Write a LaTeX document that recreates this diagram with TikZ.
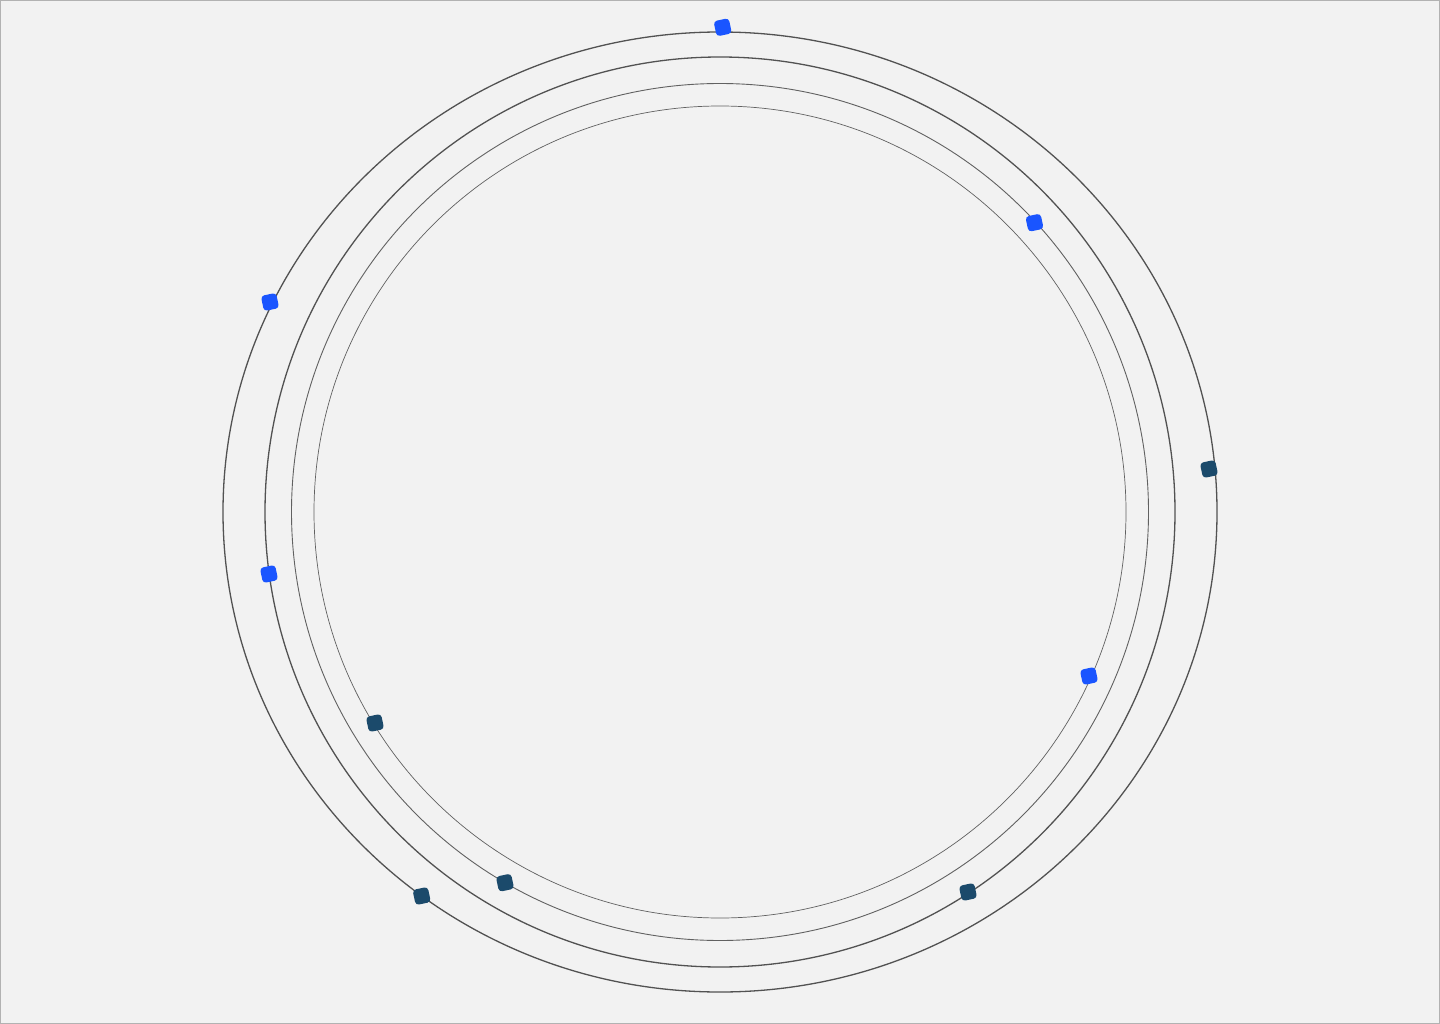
\documentclass[tikz,border=0pt]{standalone}
\begin{document}
\begin{tikzpicture}[x=1pt,y=-1pt,
  ring/.style={draw=black!68,line width=1.3pt},
  ringthin/.style={draw=black!62,line width=0.9pt},
  marker/.style={rectangle,minimum size=15.5pt,inner sep=0pt,rounded corners=3.5pt,rotate=12},
  bluemark/.style={marker,fill=mblue},
  darkmark/.style={marker,fill=mdark}]
\definecolor{bg}{HTML}{F2F2F2}
\definecolor{mblue}{HTML}{1A55FF}
\definecolor{mdark}{HTML}{1B4A6B}
\useasboundingbox (0,0) rectangle (1440,1024);
\fill[bg] (0,0) rectangle (1440,1024);
\draw[black!30,line width=1pt] (0.5,0.5) rectangle (1439.5,1023.5);
\coordinate (c) at (720,512);
\draw[ring] (c) ellipse [x radius=497, y radius=480];
\draw[ring] (c) circle [radius=455];
\draw[ringthin] (c) circle [radius=428.5];
\draw[ringthin,line width=0.7pt] (c) circle [radius=406];
\node[bluemark] (m1) at (722.7,27.3) {};
\node[bluemark] (m2) at (1034.5,222.7) {};
\node[bluemark] (m3) at (270,302) {};
\node[bluemark] (m4) at (269,574) {};
\node[bluemark] (m5) at (1089,676) {};
\node[darkmark] (m6) at (1209,469) {};
\node[darkmark] (m7) at (375,723) {};
\node[darkmark] (m8) at (505,882.7) {};
\node[darkmark] (m9) at (421.7,896) {};
\node[darkmark] (m10) at (968,892) {};
\end{tikzpicture}
\end{document}
